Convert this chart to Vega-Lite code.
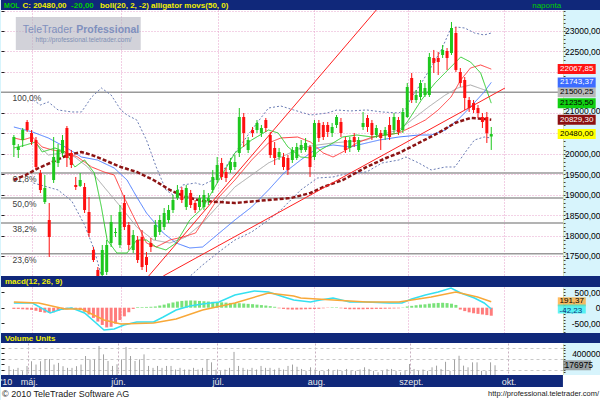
{
"$schema": "https://vega.github.io/schema/vega-lite/v6.json",
"padding": 0,
"background": "#d7f4fc",
"spacing": 0,
"bounds": "flush",
"config": {"view": {"stroke": null}, "axis": {"labelFont": "Liberation Sans", "labelFontSize": 8.5, "labelColor": "#000000"}},
"datasets": {
"candles": [
{"i":0,"o":20213,"h":20457,"l":19919,"c":20408,"vol":164000,"hist":-40},
{"i":1,"o":20091,"h":20237,"l":19895,"c":20164,"vol":103000,"hist":-40},
{"i":2,"o":20335,"h":20628,"l":20164,"c":20579,"vol":130000,"hist":-50},
{"i":3,"o":20775,"h":20824,"l":20531,"c":20579,"vol":70000,"hist":-60},
{"i":4,"o":20506,"h":20579,"l":20213,"c":20286,"vol":164000,"hist":-70},
{"i":5,"o":20335,"h":20408,"l":19602,"c":19675,"vol":250000,"hist":-100},
{"i":6,"o":19528,"h":19602,"l":19039,"c":19113,"vol":190000,"hist":-140},
{"i":7,"o":18819,"h":19480,"l":18770,"c":19162,"vol":250000,"hist":-160},
{"i":8,"o":18379,"h":18795,"l":17474,"c":17963,"vol":290000,"hist":-170},
{"i":9,"o":19357,"h":20408,"l":19284,"c":19919,"vol":290000,"hist":-150},
{"i":10,"o":19773,"h":20237,"l":19675,"c":20091,"vol":190000,"hist":-100},
{"i":11,"o":20017,"h":20457,"l":19919,"c":20335,"vol":220000,"hist":-70},
{"i":12,"o":20628,"h":20677,"l":19675,"c":19895,"vol":160000,"hist":-50},
{"i":13,"o":20017,"h":20091,"l":19650,"c":19724,"vol":130000,"hist":-40},
{"i":14,"o":19235,"h":19431,"l":19113,"c":19186,"vol":130000,"hist":-50},
{"i":15,"o":19211,"h":19528,"l":19186,"c":19357,"vol":160000,"hist":-80},
{"i":16,"o":19186,"h":19284,"l":18550,"c":18624,"vol":190000,"hist":-130},
{"i":17,"o":18575,"h":18941,"l":17963,"c":18061,"vol":345000,"hist":-220},
{"i":18,"o":17646,"h":17719,"l":17352,"c":17401,"vol":285000,"hist":-330},
{"i":19,"o":17157,"h":17230,"l":16912,"c":16985,"vol":285000,"hist":-450},
{"i":20,"o":17034,"h":17768,"l":16912,"c":17646,"vol":527000,"hist":-560},
{"i":21,"o":17108,"h":17890,"l":17034,"c":17768,"vol":375000,"hist":-640},
{"i":22,"o":17817,"h":18501,"l":17719,"c":18330,"vol":255000,"hist":-620},
{"i":23,"o":18061,"h":18183,"l":17963,"c":18086,"vol":165000,"hist":-520},
{"i":24,"o":17768,"h":18746,"l":17695,"c":18575,"vol":195000,"hist":-400},
{"i":25,"o":18795,"h":18990,"l":18134,"c":18208,"vol":285000,"hist":-280},
{"i":26,"o":18257,"h":18330,"l":17646,"c":17768,"vol":510000,"hist":-150},
{"i":27,"o":17646,"h":18134,"l":17572,"c":18012,"vol":345000,"hist":-40},
{"i":28,"o":17890,"h":17988,"l":17328,"c":17401,"vol":255000,"hist":20},
{"i":29,"o":17963,"h":18134,"l":17157,"c":17230,"vol":285000,"hist":20},
{"i":30,"o":17474,"h":17597,"l":17108,"c":17279,"vol":375000,"hist":25},
{"i":31,"o":17817,"h":17939,"l":17597,"c":17719,"vol":165000,"hist":30},
{"i":32,"o":17963,"h":18379,"l":17890,"c":18257,"vol":130000,"hist":40},
{"i":33,"o":18086,"h":18501,"l":18012,"c":18379,"vol":165000,"hist":70},
{"i":34,"o":18208,"h":18672,"l":18134,"c":18550,"vol":130000,"hist":100},
{"i":35,"o":18379,"h":18746,"l":18306,"c":18624,"vol":165000,"hist":140},
{"i":36,"o":18624,"h":18990,"l":18550,"c":18868,"vol":165000,"hist":170},
{"i":37,"o":18917,"h":19235,"l":18868,"c":19113,"vol":100000,"hist":200},
{"i":38,"o":19113,"h":19186,"l":18795,"c":18868,"vol":130000,"hist":220},
{"i":39,"o":18697,"h":19235,"l":18624,"c":19162,"vol":100000,"hist":230},
{"i":40,"o":19039,"h":19113,"l":18672,"c":18746,"vol":100000,"hist":235},
{"i":41,"o":18795,"h":18868,"l":18550,"c":18624,"vol":130000,"hist":230},
{"i":42,"o":18697,"h":18990,"l":18624,"c":18917,"vol":100000,"hist":220},
{"i":43,"o":18697,"h":19113,"l":18624,"c":18990,"vol":130000,"hist":210},
{"i":44,"o":18843,"h":19039,"l":18746,"c":18917,"vol":290000,"hist":200},
{"i":45,"o":19113,"h":19602,"l":19039,"c":19431,"vol":230000,"hist":190},
{"i":46,"o":19357,"h":19919,"l":19284,"c":19724,"vol":100000,"hist":185},
{"i":47,"o":19773,"h":19895,"l":19357,"c":19431,"vol":70000,"hist":175},
{"i":48,"o":19553,"h":19650,"l":19308,"c":19406,"vol":100000,"hist":165},
{"i":49,"o":19602,"h":19895,"l":19528,"c":19797,"vol":130000,"hist":155},
{"i":50,"o":19675,"h":19968,"l":19602,"c":19797,"vol":420000,"hist":150},
{"i":51,"o":20017,"h":21117,"l":19919,"c":20897,"vol":165000,"hist":145},
{"i":52,"o":20897,"h":20995,"l":20164,"c":20506,"vol":130000,"hist":135},
{"i":53,"o":20091,"h":20408,"l":20017,"c":20335,"vol":100000,"hist":125},
{"i":54,"o":20579,"h":20653,"l":20408,"c":20506,"vol":130000,"hist":115},
{"i":55,"o":20579,"h":20824,"l":20506,"c":20751,"vol":100000,"hist":100},
{"i":56,"o":20506,"h":20702,"l":20408,"c":20628,"vol":165000,"hist":85},
{"i":57,"o":20824,"h":20873,"l":20531,"c":20628,"vol":130000,"hist":70},
{"i":58,"o":20457,"h":20531,"l":19895,"c":19968,"vol":130000,"hist":50},
{"i":59,"o":20140,"h":20286,"l":19724,"c":19895,"vol":100000,"hist":30},
{"i":60,"o":19919,"h":20140,"l":19846,"c":20042,"vol":130000,"hist":-20},
{"i":61,"o":19919,"h":20017,"l":19602,"c":19675,"vol":100000,"hist":-40},
{"i":62,"o":19895,"h":19968,"l":19480,"c":19602,"vol":165000,"hist":-55},
{"i":63,"o":19846,"h":20164,"l":19773,"c":20091,"vol":190000,"hist":-60},
{"i":64,"o":19895,"h":20262,"l":19846,"c":20164,"vol":150000,"hist":-60},
{"i":65,"o":20091,"h":20335,"l":20017,"c":20213,"vol":110000,"hist":-55},
{"i":66,"o":20091,"h":20384,"l":20042,"c":20262,"vol":75000,"hist":-50},
{"i":67,"o":20164,"h":20213,"l":19431,"c":19675,"vol":140000,"hist":-45},
{"i":68,"o":19919,"h":20824,"l":19846,"c":20751,"vol":100000,"hist":-40},
{"i":69,"o":20751,"h":20824,"l":20286,"c":20384,"vol":75000,"hist":-35},
{"i":70,"o":20702,"h":20775,"l":20335,"c":20408,"vol":75000,"hist":-20},
{"i":71,"o":20702,"h":20775,"l":20408,"c":20531,"vol":110000,"hist":-10},
{"i":72,"o":20506,"h":20751,"l":20408,"c":20653,"vol":75000,"hist":15},
{"i":73,"o":20702,"h":20946,"l":20628,"c":20897,"vol":100000,"hist":15},
{"i":74,"o":20775,"h":20873,"l":20408,"c":20506,"vol":75000,"hist":-20},
{"i":75,"o":20335,"h":20408,"l":20017,"c":20091,"vol":110000,"hist":-40},
{"i":76,"o":20140,"h":20408,"l":20042,"c":20335,"vol":75000,"hist":-50},
{"i":77,"o":20408,"h":20506,"l":20164,"c":20286,"vol":75000,"hist":-50},
{"i":78,"o":20091,"h":20408,"l":20042,"c":20335,"vol":100000,"hist":-50},
{"i":79,"o":20653,"h":21020,"l":20579,"c":20751,"vol":140000,"hist":-50},
{"i":80,"o":20873,"h":20946,"l":20531,"c":20653,"vol":110000,"hist":-45},
{"i":81,"o":20751,"h":20824,"l":20335,"c":20457,"vol":75000,"hist":-45},
{"i":82,"o":20457,"h":20702,"l":20384,"c":20628,"vol":50000,"hist":-40},
{"i":83,"o":20506,"h":20579,"l":20091,"c":20384,"vol":75000,"hist":-40},
{"i":84,"o":20457,"h":20653,"l":20335,"c":20579,"vol":110000,"hist":-35},
{"i":85,"o":20702,"h":20897,"l":20335,"c":20408,"vol":110000,"hist":-30},
{"i":86,"o":20579,"h":20995,"l":20506,"c":20897,"vol":75000,"hist":-25},
{"i":87,"o":20824,"h":20897,"l":20457,"c":20531,"vol":50000,"hist":-20},
{"i":88,"o":20579,"h":21117,"l":20506,"c":21020,"vol":75000,"hist":10},
{"i":89,"o":20897,"h":21729,"l":20873,"c":21631,"vol":200000,"hist":40},
{"i":90,"o":21851,"h":21973,"l":21240,"c":21313,"vol":110000,"hist":60},
{"i":91,"o":21313,"h":21557,"l":21240,"c":21435,"vol":75000,"hist":80},
{"i":92,"o":21386,"h":21802,"l":21313,"c":21729,"vol":100000,"hist":100},
{"i":93,"o":21435,"h":21729,"l":21386,"c":21606,"vol":75000,"hist":110},
{"i":94,"o":21435,"h":22462,"l":21386,"c":22364,"vol":140000,"hist":130},
{"i":95,"o":22340,"h":22536,"l":21973,"c":22218,"vol":170000,"hist":145},
{"i":96,"o":22340,"h":22487,"l":21924,"c":22242,"vol":110000,"hist":155},
{"i":97,"o":22413,"h":22658,"l":22340,"c":22536,"vol":240000,"hist":160},
{"i":98,"o":22511,"h":22584,"l":22047,"c":22340,"vol":75000,"hist":150},
{"i":99,"o":22462,"h":23220,"l":22413,"c":23073,"vol":280000,"hist":130},
{"i":100,"o":22951,"h":23098,"l":21998,"c":22047,"vol":350000,"hist":90},
{"i":101,"o":21998,"h":22095,"l":21631,"c":21729,"vol":170000,"hist":-60},
{"i":102,"o":21802,"h":21875,"l":21069,"c":21362,"vol":140000,"hist":-110},
{"i":103,"o":21313,"h":21386,"l":21020,"c":21117,"vol":230000,"hist":-150},
{"i":104,"o":21240,"h":21313,"l":20995,"c":21069,"vol":230000,"hist":-180},
{"i":105,"o":21117,"h":21191,"l":20873,"c":20995,"vol":75000,"hist":-200},
{"i":106,"o":20897,"h":20995,"l":20628,"c":20775,"vol":75000,"hist":-220},
{"i":107,"o":20897,"h":21020,"l":20262,"c":20500,"vol":230000,"hist":-240},
{"i":108,"o":20420,"h":20653,"l":20091,"c":20480,"vol":176975,"hist":-260}
],
"lines": [
{"s":"bu","i":4.4,"v":21313},{"s":"bu","i":6,"v":21191},{"s":"bu","i":7.8,"v":21264},{"s":"bu","i":10,"v":21069},{"s":"bu","i":13.1,"v":21020},{"s":"bu","i":15.3,"v":21020},{"s":"bu","i":17.6,"v":21386},{"s":"bu","i":19.8,"v":21606},{"s":"bu","i":22,"v":21435},{"s":"bu","i":24.2,"v":21069},{"s":"bu","i":25.6,"v":20946},{"s":"bu","i":27.8,"v":20824},{"s":"bu","i":30,"v":20335},{"s":"bu","i":32.2,"v":19675},{"s":"bu","i":34.4,"v":19113},{"s":"bu","i":36,"v":18990},{"s":"bu","i":38.2,"v":19235},{"s":"bu","i":41.1,"v":19284},{"s":"bu","i":42.7,"v":19235},{"s":"bu","i":46.4,"v":19431},{"s":"bu","i":50,"v":20017},{"s":"bu","i":53.8,"v":20579},{"s":"bu","i":57.6,"v":21117},{"s":"bu","i":60.4,"v":21166},{"s":"bu","i":63.3,"v":21069},{"s":"bu","i":67.1,"v":20946},{"s":"bu","i":70.9,"v":20995},{"s":"bu","i":73.1,"v":21069},{"s":"bu","i":76,"v":21044},{"s":"bu","i":79.8,"v":21069},{"s":"bu","i":83.3,"v":21020},{"s":"bu","i":87.1,"v":20995},{"s":"bu","i":88.7,"v":21100},{"s":"bu","i":90,"v":21386},{"s":"bu","i":92.2,"v":21729},{"s":"bu","i":94.4,"v":22120},{"s":"bu","i":96.7,"v":22536},{"s":"bu","i":98.7,"v":23024},{"s":"bu","i":100,"v":23098},{"s":"bu","i":102,"v":23073},{"s":"bu","i":104.2,"v":22951},{"s":"bu","i":106.4,"v":22902},{"s":"bu","i":108,"v":22951},
{"s":"bl","i":4.4,"v":19284},{"s":"bl","i":10,"v":19113},{"s":"bl","i":13.1,"v":18843},{"s":"bl","i":16,"v":18257},{"s":"bl","i":18.2,"v":17646},{"s":"bl","i":19.8,"v":17010},{"s":"bl","i":21.1,"v":16668},{"s":"bl","i":24.2,"v":16423},{"s":"bl","i":27.8,"v":16179},{"s":"bl","i":31.6,"v":16056},{"s":"bl","i":36,"v":16179},{"s":"bl","i":38.9,"v":16912},{"s":"bl","i":42.7,"v":17279},{"s":"bl","i":46.4,"v":17600},{"s":"bl","i":50,"v":17890},{"s":"bl","i":53.8,"v":18086},{"s":"bl","i":57.6,"v":18379},{"s":"bl","i":60.4,"v":18624},{"s":"bl","i":64.9,"v":19113},{"s":"bl","i":68.7,"v":19406},{"s":"bl","i":72.2,"v":19431},{"s":"bl","i":76,"v":19528},{"s":"bl","i":79.8,"v":19553},{"s":"bl","i":83.3,"v":19773},{"s":"bl","i":87.1,"v":19846},{"s":"bl","i":88.7,"v":19919},{"s":"bl","i":91.6,"v":19773},{"s":"bl","i":94.4,"v":19602},{"s":"bl","i":97.6,"v":19675},{"s":"bl","i":99.8,"v":19675},{"s":"bl","i":102,"v":20017},{"s":"bl","i":104.2,"v":20335},{"s":"bl","i":106.4,"v":20408},{"s":"bl","i":108,"v":20384},
{"s":"mid","i":4.9,"v":20262},{"s":"mid","i":7.8,"v":19968},{"s":"mid","i":10.9,"v":20017},{"s":"mid","i":13.8,"v":19919},{"s":"mid","i":16.7,"v":19675},{"s":"mid","i":20.4,"v":19186},{"s":"mid","i":24.2,"v":18697},{"s":"mid","i":27.8,"v":18208},{"s":"mid","i":31.6,"v":17890},{"s":"mid","i":35.3,"v":17817},{"s":"mid","i":38.9,"v":17963},{"s":"mid","i":42.7,"v":18306},{"s":"mid","i":50,"v":19186},{"s":"mid","i":57.6,"v":19773},{"s":"mid","i":64.9,"v":20140},{"s":"mid","i":68.7,"v":20213},{"s":"mid","i":72.2,"v":20262},{"s":"mid","i":79.8,"v":20335},{"s":"mid","i":82.7,"v":20457},{"s":"mid","i":87.1,"v":20579},{"s":"mid","i":90,"v":20824},{"s":"mid","i":93.8,"v":21142},{"s":"mid","i":97.6,"v":21435},{"s":"mid","i":100.4,"v":21606},{"s":"mid","i":103.3,"v":21680},{"s":"mid","i":108,"v":21500},
{"s":"jaw","i":0,"v":20653},{"s":"jaw","i":4.2,"v":20531},{"s":"jaw","i":7.8,"v":20384},{"s":"jaw","i":11.6,"v":20164},{"s":"jaw","i":15.3,"v":19919},{"s":"jaw","i":18.9,"v":19846},{"s":"jaw","i":22.7,"v":19650},{"s":"jaw","i":25.6,"v":19357},{"s":"jaw","i":27.8,"v":18941},{"s":"jaw","i":30,"v":18550},{"s":"jaw","i":33.8,"v":18061},{"s":"jaw","i":36.7,"v":17817},{"s":"jaw","i":39.8,"v":17695},{"s":"jaw","i":42.7,"v":17719},{"s":"jaw","i":50,"v":18379},{"s":"jaw","i":53.8,"v":18697},{"s":"jaw","i":57.6,"v":19113},{"s":"jaw","i":61.1,"v":19528},{"s":"jaw","i":64.9,"v":19846},{"s":"jaw","i":68.7,"v":20140},{"s":"jaw","i":72.2,"v":20213},{"s":"jaw","i":76,"v":20164},{"s":"jaw","i":79.8,"v":20262},{"s":"jaw","i":82.7,"v":20335},{"s":"jaw","i":87.1,"v":20408},{"s":"jaw","i":91.6,"v":20457},{"s":"jaw","i":94.4,"v":20457},{"s":"jaw","i":97.6,"v":20579},{"s":"jaw","i":100.4,"v":20824},{"s":"jaw","i":103.3,"v":21142},{"s":"jaw","i":106.4,"v":21509},{"s":"jaw","i":108,"v":21743},
{"s":"teeth","i":0,"v":20384},{"s":"teeth","i":2,"v":20335},{"s":"teeth","i":4.2,"v":20408},{"s":"teeth","i":6.4,"v":20164},{"s":"teeth","i":8.7,"v":20091},{"s":"teeth","i":11.6,"v":20042},{"s":"teeth","i":14.4,"v":19919},{"s":"teeth","i":17.6,"v":19675},{"s":"teeth","i":20.4,"v":19553},{"s":"teeth","i":22.7,"v":19480},{"s":"teeth","i":24.9,"v":18941},{"s":"teeth","i":27.8,"v":18306},{"s":"teeth","i":30,"v":17817},{"s":"teeth","i":32.2,"v":17719},{"s":"teeth","i":35.3,"v":17890},{"s":"teeth","i":38.2,"v":17963},{"s":"teeth","i":41.1,"v":18061},{"s":"teeth","i":42.7,"v":18330},{"s":"teeth","i":46.4,"v":18941},{"s":"teeth","i":50,"v":19357},{"s":"teeth","i":53.8,"v":19846},{"s":"teeth","i":57.6,"v":20262},{"s":"teeth","i":60.4,"v":20384},{"s":"teeth","i":64.2,"v":20408},{"s":"teeth","i":67.1,"v":20286},{"s":"teeth","i":70,"v":20017},{"s":"teeth","i":72.2,"v":19919},{"s":"teeth","i":74.4,"v":20042},{"s":"teeth","i":77.6,"v":20262},{"s":"teeth","i":81.1,"v":20408},{"s":"teeth","i":87.1,"v":20506},{"s":"teeth","i":90,"v":20653},{"s":"teeth","i":93.1,"v":20824},{"s":"teeth","i":96,"v":21069},{"s":"teeth","i":98.9,"v":21386},{"s":"teeth","i":101.1,"v":21802},{"s":"teeth","i":103.3,"v":22095},{"s":"teeth","i":105.6,"v":22169},{"s":"teeth","i":108,"v":22068},
{"s":"lips","i":0,"v":20140},{"s":"lips","i":2.7,"v":20213},{"s":"lips","i":4.9,"v":20286},{"s":"lips","i":6.4,"v":20042},{"s":"lips","i":9.3,"v":20140},{"s":"lips","i":11.6,"v":20042},{"s":"lips","i":13.8,"v":19675},{"s":"lips","i":16,"v":19846},{"s":"lips","i":18.2,"v":19528},{"s":"lips","i":19.8,"v":18697},{"s":"lips","i":21.1,"v":17890},{"s":"lips","i":23.3,"v":17572},{"s":"lips","i":25.6,"v":17572},{"s":"lips","i":27.8,"v":17890},{"s":"lips","i":30,"v":17890},{"s":"lips","i":32.2,"v":17719},{"s":"lips","i":34.4,"v":17646},{"s":"lips","i":36.7,"v":17817},{"s":"lips","i":39.8,"v":18379},{"s":"lips","i":42.7,"v":18673},{"s":"lips","i":46.4,"v":19357},{"s":"lips","i":50,"v":20017},{"s":"lips","i":53.8,"v":20335},{"s":"lips","i":57.6,"v":20579},{"s":"lips","i":59.8,"v":20506},{"s":"lips","i":62,"v":20164},{"s":"lips","i":64.9,"v":19919},{"s":"lips","i":67.1,"v":19895},{"s":"lips","i":69.3,"v":20091},{"s":"lips","i":72.2,"v":20262},{"s":"lips","i":74.4,"v":20408},{"s":"lips","i":77.6,"v":20457},{"s":"lips","i":81.1,"v":20408},{"s":"lips","i":84.2,"v":20457},{"s":"lips","i":87.1,"v":20506},{"s":"lips","i":89.3,"v":20824},{"s":"lips","i":92.2,"v":21313},{"s":"lips","i":95.3,"v":21729},{"s":"lips","i":98.2,"v":22047},{"s":"lips","i":101.1,"v":22364},{"s":"lips","i":103.3,"v":22242},{"s":"lips","i":105.6,"v":21973},{"s":"lips","i":108,"v":21236},
{"s":"ma","i":0,"v":19357},{"s":"ma","i":2.7,"v":19480},{"s":"ma","i":5.6,"v":19650},{"s":"ma","i":8.7,"v":19797},{"s":"ma","i":12.2,"v":19968},{"s":"ma","i":15.3,"v":20042},{"s":"ma","i":17.6,"v":19968},{"s":"ma","i":20.4,"v":19846},{"s":"ma","i":24.2,"v":19675},{"s":"ma","i":27.8,"v":19553},{"s":"ma","i":31.6,"v":19357},{"s":"ma","i":35.3,"v":19113},{"s":"ma","i":38.9,"v":18941},{"s":"ma","i":42.7,"v":18843},{"s":"ma","i":50,"v":18795},{"s":"ma","i":57.6,"v":18868},{"s":"ma","i":62.7,"v":18917},{"s":"ma","i":67.1,"v":19039},{"s":"ma","i":70,"v":19186},{"s":"ma","i":74.4,"v":19357},{"s":"ma","i":79.8,"v":19675},{"s":"ma","i":84.2,"v":19895},{"s":"ma","i":87.1,"v":20017},{"s":"ma","i":91.6,"v":20262},{"s":"ma","i":96,"v":20506},{"s":"ma","i":99.8,"v":20751},{"s":"ma","i":103.3,"v":20873},{"s":"ma","i":106.4,"v":20849},{"s":"ma","i":108,"v":20829}
],
"fib": [{"p":"100,0%","v":21500},{"p":"61,8%","v":19527},{"p":"50,0%","v":18917},{"p":"38,2%","v":18307},{"p":"23,6%","v":17553}],
"trend": [{"t":"a","i":30.5,"v":17010},{"t":"a","i":82,"v":23513},{"t":"b","i":33.8,"v":17010},{"t":"b","i":111.1,"v":21606}],
"tags": [{"s":"mid","v":21500.25,"t":"21500,25"},{"s":"teeth","v":22067.85,"t":"22067,85"},{"s":"jaw","v":21743.37,"t":"21743,37"},{"s":"lips","v":21235.5,"t":"21235,50"},{"s":"ma","v":20829.3,"t":"20829,30"},{"s":"close","v":20480,"t":"20480,00"}],
"macdlines": [
{"s":"macd","i":0,"v":150},{"s":"macd","i":4.2,"v":153},{"s":"macd","i":8.2,"v":-172},{"s":"macd","i":10.9,"v":-42},{"s":"macd","i":13.1,"v":-10},{"s":"macd","i":16,"v":-172},{"s":"macd","i":20.4,"v":-725},{"s":"macd","i":22.7,"v":-692},{"s":"macd","i":24.9,"v":-562},{"s":"macd","i":27.8,"v":-465},{"s":"macd","i":31.6,"v":-465},{"s":"macd","i":33.8,"v":-302},{"s":"macd","i":36.7,"v":-75},{"s":"macd","i":39.8,"v":55},{"s":"macd","i":42.7,"v":120},{"s":"macd","i":46.4,"v":185},{"s":"macd","i":50,"v":413},{"s":"macd","i":54.4,"v":543},{"s":"macd","i":57.6,"v":510},{"s":"macd","i":61.1,"v":348},{"s":"macd","i":63.3,"v":250},{"s":"macd","i":67.1,"v":185},{"s":"macd","i":69.3,"v":250},{"s":"macd","i":72.2,"v":315},{"s":"macd","i":76,"v":185},{"s":"macd","i":79.8,"v":185},{"s":"macd","i":84.9,"v":153},{"s":"macd","i":87.8,"v":153},{"s":"macd","i":90,"v":283},{"s":"macd","i":93.1,"v":413},{"s":"macd","i":96,"v":510},{"s":"macd","i":98.9,"v":640},{"s":"macd","i":101.1,"v":478},{"s":"macd","i":104.2,"v":315},{"s":"macd","i":106.4,"v":153},{"s":"macd","i":108,"v":-42.23},
{"s":"sig","i":0,"v":185},{"s":"sig","i":5.6,"v":153},{"s":"sig","i":11.6,"v":-42},{"s":"sig","i":15.3,"v":-42},{"s":"sig","i":20.4,"v":-400},{"s":"sig","i":24.2,"v":-530},{"s":"sig","i":31.6,"v":-497},{"s":"sig","i":36.7,"v":-367},{"s":"sig","i":42.7,"v":-75},{"s":"sig","i":50,"v":153},{"s":"sig","i":57.6,"v":478},{"s":"sig","i":63.3,"v":380},{"s":"sig","i":64.9,"v":315},{"s":"sig","i":72.2,"v":250},{"s":"sig","i":79.8,"v":185},{"s":"sig","i":87.1,"v":185},{"s":"sig","i":94.4,"v":348},{"s":"sig","i":100,"v":510},{"s":"sig","i":104.9,"v":348},{"s":"sig","i":108,"v":191.37}
],
"macdtags": [{"s":"sig","v":191.37,"t":"191,37"},{"s":"macd","v":-42.23,"t":"-42,23"}],
"voltag": [{"v":176975,"t":"176975"}]
},
"vconcat": [
{
"width": 600, "height": 10,
"view": {"fill": "#10287a", "stroke": null},
"layer": [
{"data": {"values": [{"t": "MOL"}]}, "mark": {"type": "text", "align": "left", "baseline": "middle", "font": "Liberation Sans", "fontSize": 7, "fontWeight": "bold", "color": "#00d000", "dy": 0.5}, "encoding": {"x": {"datum": -1.1, "type": "quantitative", "scale": {"domain": [-1.78, 131.56], "nice": false, "zero": false}, "axis": null}, "text": {"field": "t"}}},
{"data": {"values": [{"t": "C: 20480,00"}]}, "mark": {"type": "text", "align": "left", "baseline": "middle", "font": "Liberation Sans", "fontSize": 8, "fontWeight": "bold", "color": "#f0f000", "dy": 0.5}, "encoding": {"x": {"datum": 3.0, "type": "quantitative", "scale": {"domain": [-1.78, 131.56], "nice": false, "zero": false}, "axis": null}, "text": {"field": "t"}}},
{"data": {"values": [{"t": "-20,00"}]}, "mark": {"type": "text", "align": "left", "baseline": "middle", "font": "Liberation Sans", "fontSize": 8, "fontWeight": "bold", "color": "#00d000", "dy": 0.5}, "encoding": {"x": {"datum": 13.8, "type": "quantitative", "scale": {"domain": [-1.78, 131.56], "nice": false, "zero": false}, "axis": null}, "text": {"field": "t"}}},
{"data": {"values": [{"t": "boll(20, 2, -2) alligator movs(50, 0)"}]}, "mark": {"type": "text", "align": "left", "baseline": "middle", "font": "Liberation Sans", "fontSize": 8, "fontWeight": "bold", "color": "#f0f000", "dy": 0.5}, "encoding": {"x": {"datum": 20.2, "type": "quantitative", "scale": {"domain": [-1.78, 131.56], "nice": false, "zero": false}, "axis": null}, "text": {"field": "t"}}},
{"data": {"values": [{"t": "naponta"}]}, "mark": {"type": "text", "align": "right", "baseline": "middle", "font": "Liberation Sans", "fontSize": 8, "color": "#00d000", "dy": 0.5}, "encoding": {"x": {"datum": 122.7, "type": "quantitative", "scale": {"domain": [-1.78, 131.56], "nice": false, "zero": false}, "axis": null}, "text": {"field": "t"}}}
]
},
{
"width": 562, "height": 266,
"view": {"fill": "#ffffff", "stroke": null},
"resolve": {"scale": {"color": "independent"}, "axis": {"x": "independent", "y": "independent"}},
"layer": [
{"data": {"name": "fib"}, "mark": {"type": "rule", "color": "#9a9a9a", "strokeWidth": 1.5, "clip": true},
 "encoding": {"y": {"field": "v", "type": "quantitative", "scale": {"domain": [17010, 23513], "nice": false, "zero": false},
   "axis": {"orient": "right", "title": null, "zindex": 0, "values": [17100,17200,17300,17400,17500,17600,17700,17800,17900,18000,18100,18200,18300,18400,18500,18600,18700,18800,18900,19000,19100,19200,19300,19400,19500,19600,19700,19800,19900,20000,20100,20200,20300,20400,20500,20600,20700,20800,20900,21000,21100,21200,21300,21400,21500,21600,21700,21800,21900,22000,22100,22200,22300,22400,22500,22600,22700,22800,22900,23000,23100,23200,23300,23400,23500],
   "labelExpr": "indexof([17500,18000,18500,19000,19500,20000,21000,22500,23000], datum.value) >= 0 ? replace(format(datum.value, '.2f'), '.', ',') : ''",
   "labelOffset": {"condition": {"test": "datum.value === 21000", "value": -2}, "value": 0},
   "tickSize": 2, "tickColor": "#404040", "domainColor": "#d8d070", "domainDash": [1,1],
   "grid": true, "gridColor": "#e49cc8", "gridDash": [1,2], "gridOpacity": {"condition": {"test": "datum.value % 500 === 0", "value": 0.9}, "value": 0},
   "labelAlign": "right", "labelPadding": 35, "labelOverlap": false, "labelBound": false, "labelFlush": false}}}},
{"data": {"values": [{"w": "box"}]}, "mark": {"type": "rect", "fill": "#b4b4c0", "opacity": 0.6},
 "encoding": {"x": {"datum": 0.44, "type": "quantitative", "scale": {"domain": [-1.78, 123.1], "nice": false, "zero": false}, "axis": null}, "x2": {"datum": 28.7},
   "y": {"datum": 23342, "type": "quantitative", "scale": {"domain": [17010, 23513], "nice": false, "zero": false}, "axis": null}, "y2": {"datum": 22536}}},
{"data": {"values": [{"t": "TeleTrader"}]}, "mark": {"type": "text", "align": "left", "baseline": "middle", "font": "Liberation Sans", "fontSize": 10.5, "color": "#7f90be"},
 "encoding": {"x": {"datum": 2.0, "type": "quantitative", "scale": {"domain": [-1.78, 123.1], "nice": false, "zero": false}, "axis": null},
   "y": {"datum": 23020, "type": "quantitative", "scale": {"domain": [17010, 23513], "nice": false, "zero": false}, "axis": null}, "text": {"field": "t"}}},
{"data": {"values": [{"t": "Professional"}]}, "mark": {"type": "text", "align": "left", "baseline": "middle", "font": "Liberation Sans", "fontSize": 10.5, "fontWeight": "bold", "color": "#7f90be"},
 "encoding": {"x": {"datum": 14.1, "type": "quantitative", "scale": {"domain": [-1.78, 123.1], "nice": false, "zero": false}, "axis": null},
   "y": {"datum": 23020, "type": "quantitative", "scale": {"domain": [17010, 23513], "nice": false, "zero": false}, "axis": null}, "text": {"field": "t"}}},
{"data": {"values": [{"t": "http://professional.teletrader.com/"}]}, "mark": {"type": "text", "align": "left", "baseline": "middle", "font": "Liberation Sans", "fontSize": 6.5, "color": "#8090b4"},
 "encoding": {"x": {"datum": 4.9, "type": "quantitative", "scale": {"domain": [-1.78, 123.1], "nice": false, "zero": false}, "axis": null},
   "y": {"datum": 22770, "type": "quantitative", "scale": {"domain": [17010, 23513], "nice": false, "zero": false}, "axis": null}, "text": {"field": "t"}}},
{"data": {"name": "fib"}, "mark": {"type": "text", "align": "left", "baseline": "top", "dy": 2, "font": "Liberation Sans", "fontSize": 8.5, "color": "#404040"},
 "encoding": {"x": {"datum": -0.3, "type": "quantitative", "scale": {"domain": [-1.78, 123.1], "nice": false, "zero": false}, "axis": null},
   "y": {"field": "v", "type": "quantitative", "scale": {"domain": [17010, 23513], "nice": false, "zero": false},
     "axis": {"orient": "left", "offset": -3, "title": null, "zindex": 0, "values": [17500,18000,18500,19000,19500,20000,20500,21000,21500,22000,22500,23000,23500], "labels": false, "domain": false, "grid": false, "tickSize": 3, "tickColor": "#202020"}},
   "text": {"field": "p"}}},
{"data": {"name": "lines"}, "transform": [{"filter": "datum.s !== 'ma'"}], "mark": {"type": "line", "strokeWidth": 1, "clip": true},
 "encoding": {"x": {"field": "i", "type": "quantitative", "scale": {"domain": [-1.78, 123.1], "nice": false, "zero": false}, "axis": null},
   "y": {"field": "v", "type": "quantitative", "scale": {"domain": [17010, 23513], "nice": false, "zero": false}, "axis": null},
   "color": {"field": "s", "type": "nominal", "scale": {"domain": ["bu","bl","mid","jaw","teeth","lips"], "range": ["#6a7cb4","#6a7cb4","#a8a8a8","#4a7cff","#ff3a3a","#2ccc2c"]}, "legend": null},
   "strokeDash": {"field": "s", "type": "nominal", "scale": {"domain": ["bu","bl","mid","jaw","teeth","lips"], "range": [[2,2],[2,2],[1,0],[1,0],[1,0],[1,0]]}, "legend": null}}},
{"data": {"name": "lines"}, "transform": [{"filter": "datum.s === 'ma'"}], "mark": {"type": "line", "strokeWidth": 2.5, "strokeDash": [4,2], "color": "#8c1414", "clip": true},
 "encoding": {"x": {"field": "i", "type": "quantitative", "scale": {"domain": [-1.78, 123.1], "nice": false, "zero": false}, "axis": null},
   "y": {"field": "v", "type": "quantitative", "scale": {"domain": [17010, 23513], "nice": false, "zero": false}, "axis": null}}},
{"data": {"name": "trend"}, "mark": {"type": "line", "strokeWidth": 1, "color": "#ff2020", "clip": true},
 "encoding": {"x": {"field": "i", "type": "quantitative", "scale": {"domain": [-1.78, 123.1], "nice": false, "zero": false}, "axis": null},
   "y": {"field": "v", "type": "quantitative", "scale": {"domain": [17010, 23513], "nice": false, "zero": false}, "axis": null},
   "detail": {"field": "t", "type": "nominal"}}},
{"data": {"name": "candles"}, "mark": {"type": "rule", "strokeWidth": 1, "clip": true},
 "encoding": {"x": {"field": "i", "type": "quantitative", "scale": {"domain": [-1.78, 123.1], "nice": false, "zero": false}, "axis": null},
   "y": {"field": "l", "type": "quantitative", "scale": {"domain": [17010, 23513], "nice": false, "zero": false}, "axis": null}, "y2": {"field": "h"},
   "color": {"condition": {"test": "datum.c >= datum.o", "value": "#1ec81e"}, "value": "#ff1010"}}},
{"data": {"name": "candles"}, "mark": {"type": "bar", "size": 3, "clip": true},
 "encoding": {"x": {"field": "i", "type": "quantitative", "scale": {"domain": [-1.78, 123.1], "nice": false, "zero": false},
   "axis": {"values": [4.2, 24.2, 46.2, 68, 89.1, 110.9], "grid": true, "gridColor": "#e49cc8", "gridDash": [1,2], "labels": false, "ticks": false, "domain": false, "title": null, "zindex": 0}},
   "y": {"field": "o", "type": "quantitative", "scale": {"domain": [17010, 23513], "nice": false, "zero": false}, "axis": null}, "y2": {"field": "c"},
   "color": {"condition": {"test": "datum.c >= datum.o", "value": "#1ec81e"}, "value": "#ff1010"}}},
{"data": {"name": "tags"}, "mark": {"type": "tick", "orient": "horizontal", "size": 38, "thickness": 10, "opacity": 1},
 "encoding": {"x": {"datum": 127.33, "type": "quantitative", "scale": {"domain": [-1.78, 123.1], "nice": false, "zero": false}, "axis": null},
   "y": {"field": "v", "type": "quantitative", "scale": {"domain": [17010, 23513], "nice": false, "zero": false}, "axis": null},
   "color": {"field": "s", "type": "nominal", "scale": {"domain": ["mid","teeth","jaw","lips","ma","close"], "range": ["#b8b8b8","#ff1414","#3c6cff","#10d010","#8c1010","#ffff00"]}, "legend": null}}},
{"data": {"name": "tags"}, "mark": {"type": "text", "align": "left", "baseline": "middle", "font": "Liberation Sans", "fontSize": 8, "dx": 1},
 "encoding": {"x": {"datum": 123.33, "type": "quantitative", "scale": {"domain": [-1.78, 123.1], "nice": false, "zero": false}, "axis": null},
   "y": {"field": "v", "type": "quantitative", "scale": {"domain": [17010, 23513], "nice": false, "zero": false}, "axis": null},
   "text": {"field": "t"},
   "color": {"condition": {"test": "datum.s === 'teeth' || datum.s === 'jaw' || datum.s === 'ma'", "value": "#ffffff"}, "value": "#000000"}}}
]
},
{
"width": 600, "height": 11,
"view": {"fill": "#10287a", "stroke": null},
"layer": [
{"data": {"values": [{"t": "macd(12, 26, 9)"}]}, "mark": {"type": "text", "align": "left", "baseline": "middle", "font": "Liberation Sans", "fontSize": 8, "fontWeight": "bold", "color": "#f0f000", "dy": 0.5}, "encoding": {"x": {"datum": -0.9, "type": "quantitative", "scale": {"domain": [-1.78, 131.56], "nice": false, "zero": false}, "axis": null}, "text": {"field": "t"}}}
]
},
{
"width": 562, "height": 46,
"view": {"fill": "#ffffff", "stroke": null},
"resolve": {"scale": {"color": "independent"}, "axis": {"x": "independent", "y": "independent"}},
"layer": [
{"data": {"name": "candles"}, "mark": {"type": "bar", "size": 3, "opacity": 0.75},
 "encoding": {"x": {"field": "i", "type": "quantitative", "scale": {"domain": [-1.78, 123.1], "nice": false, "zero": false},
   "axis": {"values": [4.2, 24.2, 46.2, 68, 89.1, 110.9], "grid": true, "gridColor": "#e49cc8", "gridDash": [1,2], "labels": false, "ticks": false, "domain": false, "title": null, "zindex": 0}},
   "y": {"field": "hist", "type": "quantitative", "scale": {"domain": [-821, 672], "nice": false, "zero": false},
     "axis": {"orient": "right", "title": null, "zindex": 0, "values": [-800,-700,-600,-500,-400,-300,-200,-100,0,100,200,300,400,500,600],
       "labelExpr": "datum.value === 0 ? '0' : (datum.value === 500 || datum.value === -500) ? replace(replace(format(datum.value, '.2f'), '.', ','), '\u2212', '-') : ''",
       "tickSize": 2, "tickColor": "#404040", "domainColor": "#d8d070", "domainDash": [1,1], "grid": false,
       "labelAlign": "right", "labelPadding": 35, "labelOverlap": false, "labelBound": false, "labelFlush": false}},
   "y2": {"datum": 0},
   "color": {"condition": {"test": "datum.hist >= 0", "value": "#4cd84c"}, "value": "#ff5050"}}},
{"data": {"name": "macdlines"}, "mark": {"type": "line", "strokeWidth": 1.5},
 "encoding": {"x": {"field": "i", "type": "quantitative", "scale": {"domain": [-1.78, 123.1], "nice": false, "zero": false}, "axis": null},
   "y": {"field": "v", "type": "quantitative", "scale": {"domain": [-821, 672], "nice": false, "zero": false},
     "axis": {"orient": "left", "offset": -3, "title": null, "zindex": 0, "values": [-500, 0, 500], "labels": false, "domain": false, "grid": false, "tickSize": 3, "tickColor": "#202020"}},
   "color": {"field": "s", "type": "nominal", "scale": {"domain": ["macd","sig"], "range": ["#34e0f0","#f8a838"]}, "legend": null}}},
{"data": {"name": "macdtags"}, "mark": {"type": "tick", "orient": "horizontal", "size": 28, "thickness": 9},
 "encoding": {"x": {"datum": 126.22, "type": "quantitative", "scale": {"domain": [-1.78, 123.1], "nice": false, "zero": false}, "axis": null},
   "y": {"field": "v", "type": "quantitative", "scale": {"domain": [-821, 672], "nice": false, "zero": false}, "axis": null},
   "color": {"field": "s", "type": "nominal", "scale": {"domain": ["sig","macd"], "range": ["#ffa020","#20f0f0"]}, "legend": null}}},
{"data": {"name": "macdtags"}, "transform": [{"filter": "datum.s === 'sig'"}], "mark": {"type": "text", "align": "left", "baseline": "middle", "font": "Liberation Sans", "fontSize": 8, "dx": 0.5, "dy": -1, "color": "#000000"},
 "encoding": {"x": {"datum": 123.33, "type": "quantitative", "scale": {"domain": [-1.78, 123.1], "nice": false, "zero": false}, "axis": null},
   "y": {"field": "v", "type": "quantitative", "scale": {"domain": [-821, 672], "nice": false, "zero": false}, "axis": null},
   "text": {"field": "t"}}},
{"data": {"name": "macdtags"}, "transform": [{"filter": "datum.s === 'macd'"}], "mark": {"type": "text", "align": "left", "baseline": "middle", "font": "Liberation Sans", "fontSize": 8, "dx": 0.5, "dy": 1.5, "color": "#10307a"},
 "encoding": {"x": {"datum": 123.33, "type": "quantitative", "scale": {"domain": [-1.78, 123.1], "nice": false, "zero": false}, "axis": null},
   "y": {"field": "v", "type": "quantitative", "scale": {"domain": [-821, 672], "nice": false, "zero": false}, "axis": null},
   "text": {"field": "t"}}}
]
},
{
"width": 600, "height": 10,
"view": {"fill": "#10287a", "stroke": null},
"layer": [
{"data": {"values": [{"t": "Volume Units"}]}, "mark": {"type": "text", "align": "left", "baseline": "middle", "font": "Liberation Sans", "fontSize": 8, "fontWeight": "bold", "color": "#f0f000", "dy": 0.5}, "encoding": {"x": {"datum": -0.9, "type": "quantitative", "scale": {"domain": [-1.78, 131.56], "nice": false, "zero": false}, "axis": null}, "text": {"field": "t"}}}
]
},
{
"width": 562, "height": 32,
"view": {"fill": "#ffffff", "stroke": null},
"resolve": {"axis": {"x": "independent", "y": "independent"}},
"layer": [
{"data": {"name": "candles"}, "mark": {"type": "rule", "strokeWidth": 1, "color": "#a0a0a0"},
 "encoding": {"x": {"field": "i", "type": "quantitative", "scale": {"domain": [-1.78, 123.1], "nice": false, "zero": false},
   "axis": {"values": [4.2, 24.2, 46.2, 68, 89.1, 110.9], "grid": true, "gridColor": "#c8b0c0", "gridDash": [2,2], "labels": false, "ticks": false, "domain": false, "title": null, "zindex": 0}},
   "y": {"field": "vol", "type": "quantitative", "scale": {"domain": [0, 582000], "nice": false, "zero": false},
     "axis": {"orient": "right", "title": null, "zindex": 0, "values": [0,50000,100000,150000,200000,250000,300000,350000,400000,450000,500000,550000],
       "labelExpr": "datum.value === 400000 ? format(datum.value, 'd') : ''",
       "tickSize": 2, "tickColor": "#404040", "domainColor": "#d8d070", "domainDash": [1,1],
       "grid": true, "gridColor": "#c8c8c8", "gridDash": [3,3], "gridOpacity": {"condition": {"test": "datum.value === 100000 || datum.value === 300000 || datum.value === 500000", "value": 1}, "value": 0},
       "labelAlign": "right", "labelPadding": 35, "labelOverlap": false, "labelBound": false, "labelFlush": false}},
   "y2": {"datum": 0}}},
{"data": {"name": "voltag"}, "mark": {"type": "tick", "orient": "horizontal", "size": 28, "thickness": 10, "color": "#808080"},
 "encoding": {"x": {"datum": 126.22, "type": "quantitative", "scale": {"domain": [-1.78, 123.1], "nice": false, "zero": false}, "axis": null},
   "y": {"field": "v", "type": "quantitative", "scale": {"domain": [0, 582000], "nice": false, "zero": false},
     "axis": {"orient": "left", "offset": -3, "title": null, "zindex": 0, "values": [100000, 200000, 300000, 400000, 500000], "labels": false, "domain": false, "grid": false, "tickSize": 3, "tickColor": "#202020"}}}},
{"data": {"name": "voltag"}, "mark": {"type": "text", "align": "left", "baseline": "middle", "font": "Liberation Sans", "fontSize": 8.5, "dx": 0.5, "color": "#000000"},
 "encoding": {"x": {"datum": 123.33, "type": "quantitative", "scale": {"domain": [-1.78, 123.1], "nice": false, "zero": false}, "axis": null},
   "y": {"field": "v", "type": "quantitative", "scale": {"domain": [0, 582000], "nice": false, "zero": false}, "axis": null},
   "text": {"field": "t"}}}
]
},
{
"width": 600, "height": 12,
"view": {"fill": "#ffffff", "stroke": null},
"data": {"values": [{"k": 1}]},
"mark": {"type": "rect", "color": "#10287a"},
"encoding": {"x": {"datum": -1.78, "type": "quantitative", "scale": {"domain": [-1.78, 131.56], "nice": false, "zero": false},
  "axis": {"orient": "bottom", "offset": -12, "title": null, "zindex": 1, "values": [-0.67, 4.4, 24.2, 46.4, 68.2, 89.3, 111],
   "labelExpr": "datum.value < 0 ? \"'10\" : datum.value < 10 ? 'máj.' : datum.value < 30 ? 'jún.' : datum.value < 50 ? 'júl.' : datum.value < 75 ? 'aug.' : datum.value < 100 ? 'szept.' : 'okt.'",
   "labelColor": "#e8e8e8", "labelFontSize": 9, "labelPadding": 2, "labelBaseline": "top", "ticks": false, "tickSize": 0, "domain": false, "grid": false,
   "labelOverlap": false, "labelBound": false, "labelFlush": false}},
  "x2": {"datum": 123.1}}
},
{
"width": 600, "height": 13,
"view": {"fill": "#ffffff", "stroke": null},
"layer": [
{"data": {"values": [{"t": "© 2010 TeleTrader Software AG"}]}, "mark": {"type": "text", "align": "left", "baseline": "middle", "font": "Liberation Sans", "fontSize": 9, "color": "#202020", "dx": 1}, "encoding": {"x": {"datum": -1.78, "type": "quantitative", "scale": {"domain": [-1.78, 131.56], "nice": false, "zero": false}, "axis": null}, "text": {"field": "t"}}},
{"data": {"values": [{"t": "http://professional.teletrader.com/"}]}, "mark": {"type": "text", "align": "right", "baseline": "middle", "font": "Liberation Sans", "fontSize": 7.5, "color": "#202020", "dx": -2}, "encoding": {"x": {"datum": 131.56, "type": "quantitative", "scale": {"domain": [-1.78, 131.56], "nice": false, "zero": false}, "axis": null}, "text": {"field": "t"}}}
]
}
]
}
